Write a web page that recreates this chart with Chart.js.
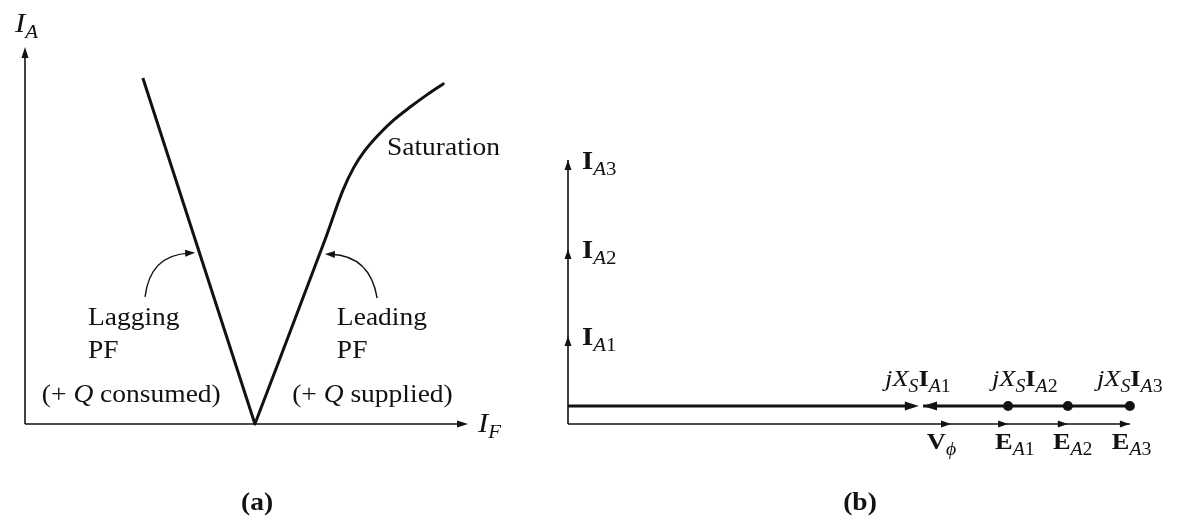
<!DOCTYPE html>
<html>
<head>
<meta charset="utf-8">
<title>V curves / phasor diagram</title>
<script src="https://cdn.jsdelivr.net/npm/chart.js@4.4.1/dist/chart.umd.min.js"></script>
<style>
  html, body { margin: 0; padding: 0; background: #fff; }
  #wrap { position: relative; width: 1177px; height: 520px; overflow: hidden; }
  #chart-a { position: absolute; left: 0; top: 0; }
  #chart-b { position: absolute; left: 540px; top: 0; }
</style>
</head>
<body>
<div id="wrap">
  <canvas id="chart-a" width="540" height="520"></canvas>
  <canvas id="chart-b" width="637" height="520"></canvas>
</div>
<script>
// ---- (a) V curve: field current I_F vs armature current I_A (arbitrary units) ----
var IF_LAG = [2.66, 5.19];
var IA_LAG = [9.18, 0];
var IF_LEAD = [5.19, 6.77, 7.18, 7.42, 7.67, 7.97, 8.32, 8.71, 9.07, 9.44];
var IA_LEAD = [0, 4.88, 6.21, 6.80, 7.25, 7.66, 8.06, 8.42, 8.73, 9.02];

// ---- (b) phasors, per unit of V_phi ----
var V_PHI = 1.0;
var E_A = [1.149, 1.305, 1.467];
var I_A = [0.23, 0.457, 0.689];
var V_PHI_DRAWN = 0.916;   // end of the thick V_phi arrow
var JXS_TIP = 0.927;       // tip of jXs*IA1
var OFFSET = 0.047;        // height of the upper phasor row

(function () {
  "use strict";
  var $ = function (id) { return document.getElementById(id); };
  var INK = "#121212";
  var SERIF = "'Liberation Serif', 'Times New Roman', serif";
  var STRETCH = 1.1;

  function pts(xs, ys) { return xs.map(function (x, i) { return { x: x, y: ys[i] }; }); }

  // "n:(+ |i:Q|n: consumed)"  ->  runs; "_" prefix = subscript
  function parse(s) {
    return s.split("|").map(function (p) {
      var sub = p.charAt(0) === "_";
      if (sub) p = p.slice(1);
      var st = { i: "italic", b: "bold", n: "" }[p.charAt(0)];
      return { t: p.slice(2), st: st, sub: sub };
    });
  }
  function runsWidth(ctx, runs, size, subSize) {
    var w = 0;
    runs.forEach(function (r) {
      ctx.font = r.st + " " + (r.sub ? subSize : size) + "px " + SERIF;
      w += ctx.measureText(r.t).width;
    });
    return w * STRETCH;
  }
  function drawText(ctx, x, y, str, size, subSize, align) {
    var runs = parse(str);
    subSize = subSize || size;
    if (align === "center") x -= runsWidth(ctx, runs, size, subSize) / 2;
    ctx.save();
    ctx.translate(x, y);
    ctx.scale(STRETCH, 1);
    ctx.fillStyle = INK;
    ctx.textBaseline = "alphabetic";
    var cx = 0;
    runs.forEach(function (r) {
      var sz = r.sub ? subSize : size;
      ctx.font = r.st + " " + sz + "px " + SERIF;
      ctx.fillText(r.t, cx, r.sub ? sz * 0.32 : 0);
      cx += ctx.measureText(r.t).width;
    });
    ctx.restore();
  }
  function head(ctx, x, y, ang, len, half) {
    ctx.save();
    ctx.translate(x, y); ctx.rotate(ang);
    ctx.fillStyle = INK;
    ctx.beginPath(); ctx.moveTo(0, 0); ctx.lineTo(-len, half); ctx.lineTo(-len, -half); ctx.closePath();
    ctx.fill();
    ctx.restore();
  }

  var base = {
    responsive: false, animation: false, events: [],
    plugins: { legend: { display: false }, tooltip: { enabled: false } }
  };

  // ---------------- chart (a) ----------------
  var notasA = {
    id: "notasA",
    afterDraw: function (c) {
      var xa = c.scales.x, ya = c.scales.y, ctx = c.ctx;
      var X = function (v) { return xa.getPixelForValue(v); };
      var Y = function (v) { return ya.getPixelForValue(v); };
      var x0 = X(0), y0 = Y(0), x1 = X(xa.max), y1 = Y(ya.max);
      ctx.save();
      ctx.strokeStyle = INK; ctx.lineWidth = 1.6;
      ctx.beginPath(); ctx.moveTo(x0, y0); ctx.lineTo(x1 - 6, y0); ctx.stroke();
      ctx.beginPath(); ctx.moveTo(x0, y0); ctx.lineTo(x0, y1 + 6); ctx.stroke();
      head(ctx, x1, y0, 0, 11, 3.5);
      head(ctx, x0, y1, -Math.PI / 2, 11, 3.5);
      // curved pointers
      [{ a: [2.71, 3.37], c: [2.82, 4.48], b: [3.84, 4.54] },
       { a: [7.95, 3.34], c: [7.79, 4.46], b: [6.77, 4.51] }].forEach(function (p) {
        var ax = X(p.a[0]), ay = Y(p.a[1]), cx = X(p.c[0]), cy = Y(p.c[1]), bx = X(p.b[0]), by = Y(p.b[1]);
        var ang = Math.atan2(by - cy, bx - cx);
        ctx.lineWidth = 1.4;
        ctx.beginPath(); ctx.moveTo(ax, ay);
        ctx.quadraticCurveTo(cx, cy, bx - 6 * Math.cos(ang), by - 6 * Math.sin(ang));
        ctx.stroke();
        head(ctx, bx, by, ang, 10, 3.5);
      });
      ctx.restore();
      drawText(ctx, x0 - 10, y1 - 15, "i:I|_i:A", 28, 19);
      drawText(ctx, x1 + 10, y0 + 8, "i:I|_i:F", 28, 19);
      drawText(ctx, X(8.17), Y(7.14), "n:Saturation", 25);
      drawText(ctx, X(1.42), Y(2.63), "n:Lagging", 25);
      drawText(ctx, X(1.42), Y(1.75), "n:PF", 25);
      drawText(ctx, X(0.38), Y(0.58), "n:(+ |i:Q|n: consumed)", 25);
      drawText(ctx, X(7.04), Y(2.63), "n:Leading", 25);
      drawText(ctx, X(7.04), Y(1.75), "n:PF", 25);
      drawText(ctx, X(6.03), Y(0.58), "n:(+ |i:Q|n: supplied)", 25);
      drawText(ctx, 257, 510, "b:(a)", 25, 25, "center");
    }
  };

  new Chart($("chart-a"), {
    type: "scatter",
    data: {
      datasets: [
        { data: pts(IF_LAG, IA_LAG), showLine: true, borderColor: INK, borderWidth: 3, pointRadius: 0, tension: 0, clip: false },
        { data: pts(IF_LEAD, IA_LEAD), showLine: true, borderColor: INK, borderWidth: 3, pointRadius: 0,
          cubicInterpolationMode: "monotone", borderCapStyle: "round", clip: false }
      ]
    },
    plugins: [notasA],
    options: Object.assign({}, base, {
      layout: { padding: { left: 25, right: 72, top: 47, bottom: 96 } },
      scales: {
        x: { type: "linear", min: 0, max: 10, display: false },
        y: { type: "linear", min: 0, max: 10, display: false }
      }
    })
  });

  // ---------------- chart (b) ----------------
  var axisX = [0, V_PHI].concat(E_A);
  var axisY = [0].concat(I_A);
  var rowX = [JXS_TIP].concat(E_A);

  var notasB = {
    id: "notasB",
    afterDraw: function (c) {
      var xa = c.scales.x, ya = c.scales.y, ctx = c.ctx;
      var X = function (v) { return xa.getPixelForValue(v); };
      var Y = function (v) { return ya.getPixelForValue(v); };
      axisX.slice(1).forEach(function (v) { head(ctx, X(v), Y(0), 0, 10, 3.5); });
      axisY.slice(1).forEach(function (v) { head(ctx, X(0), Y(v), -Math.PI / 2, 10, 3.5); });
      head(ctx, X(V_PHI_DRAWN), Y(OFFSET), 0, 14, 4.5);
      head(ctx, X(JXS_TIP), Y(OFFSET), Math.PI, 14, 4.5);
      ["1", "2", "3"].forEach(function (n, i) {
        drawText(ctx, X(0) + 14, Y(I_A[i]) + 9, "b:I|_i:A|_n:" + n, 26, 19);
      });
      [0.828, 1.107, 1.381].forEach(function (v, i) {
        drawText(ctx, X(v), Y(0.099), "i:jX|_i:S|b:I|_i:A|_n:" + (i + 1), 24, 18);
      });
      drawText(ctx, X(0.937), Y(-0.065), "b:V|_i:\u03d5", 24, 18);
      [1.115, 1.266, 1.420].forEach(function (v, i) {
        drawText(ctx, X(v), Y(-0.065), "b:E|_i:A|_n:" + (i + 1), 24, 18);
      });
      drawText(ctx, 320, 510, "b:(b)", 25, 25, "center");
    }
  };

  new Chart($("chart-b"), {
    type: "scatter",
    data: {
      datasets: [
        { data: pts(axisX, axisX.map(function () { return 0; })), showLine: true, borderColor: INK, borderWidth: 1.6, pointRadius: 0, clip: false },
        { data: pts(axisY.map(function () { return 0; }), axisY), showLine: true, borderColor: INK, borderWidth: 1.6, pointRadius: 0, clip: false },
        { data: pts([0, V_PHI_DRAWN - 0.02], [OFFSET, OFFSET]), showLine: true, borderColor: INK, borderWidth: 3, pointRadius: 0, clip: false },
        { data: pts(rowX, rowX.map(function () { return OFFSET; })), showLine: true, borderColor: INK, borderWidth: 3,
          pointRadius: [0, 5, 5, 5], pointBackgroundColor: INK, pointBorderWidth: 0, clip: false }
      ]
    },
    plugins: [notasB],
    options: Object.assign({}, base, {
      layout: { padding: { left: 28, right: 34.5, top: 117.6, bottom: 96 } },
      scales: {
        x: { type: "linear", min: 0, max: 1.5, display: false },
        y: { type: "linear", min: 0, max: 0.8, display: false }
      }
    })
  });
})();
</script>
</body>
</html>
